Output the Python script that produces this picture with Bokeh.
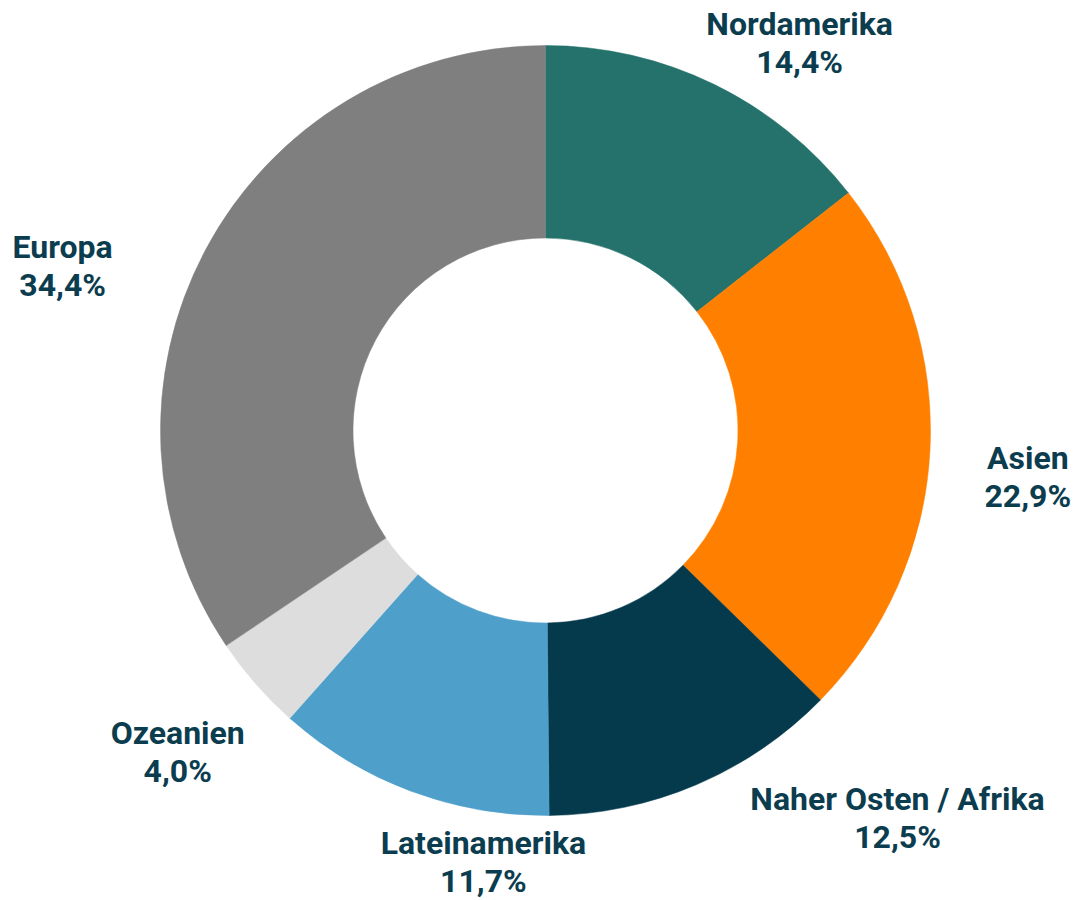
import math
from bokeh.plotting import figure
from bokeh.models import ColumnDataSource, Range1d
from bokeh.core.properties import value
from bokeh.embed import file_html
from bokeh.resources import INLINE

# ---- data ----
regions = ["Nordamerika", "Asien", "Naher Osten / Afrika", "Lateinamerika", "Ozeanien", "Europa"]
shares = [14.4, 22.9, 12.5, 11.7, 4.0, 34.4]
colors = ["#24726B", "#FF8000", "#043A4C", "#4F9FCB", "#DDDDDD", "#7F7F7F"]

# ---- layout (pixel nudges for labels, screen coords: +x right, +y down) ----
W, H = 1073, 900
CX, CY, R = 545, 430, 385          # centre and outer radius in pixels
INNER = 0.5
LABEL_R = 1.2
label_nudge = [(52, 28), (21, 21), (171, -38), (100, -1), (-20, 17), (-75, 53)]
LINE_GAP = 38
TEXT_COLOR = "#0B3D4F"
FONT = "Roboto"
FONT_SIZE = "32px"

total = sum(shares)
starts, ends, mids = [], [], []
cum = 0.0
for s in shares:
    f0 = cum / total
    cum += s
    f1 = cum / total
    starts.append(math.pi / 2 - 2 * math.pi * f0)
    ends.append(math.pi / 2 - 2 * math.pi * f1)
    mids.append(math.pi / 2 - 2 * math.pi * (f0 + f1) / 2)

src = ColumnDataSource(dict(start=starts, end=ends, color=colors, region=regions))

p = figure(width=W, height=H, output_backend="svg", toolbar_location=None,
           x_range=Range1d(-CX / R, (W - CX) / R), y_range=Range1d(-(H - CY) / R, CY / R),
           min_border=0)
p.axis.visible = False
p.grid.visible = False
p.outline_line_color = None
p.background_fill_color = "white"
p.border_fill_color = "white"

p.annular_wedge(x=0, y=0, inner_radius=INNER, outer_radius=1.0,
                start_angle="start", end_angle="end", direction="clock",
                fill_color="color", line_color="color", line_width=0.5, source=src)

lx, ly1, ly2, names, pcts = [], [], [], [], []
for name, s, a, (nx, ny) in zip(regions, shares, mids, label_nudge):
    x = LABEL_R * math.cos(a) + nx / R
    y = LABEL_R * math.sin(a) - ny / R
    lx.append(x)
    ly1.append(y + (LINE_GAP / 2) / R)
    ly2.append(y - (LINE_GAP / 2) / R)
    names.append(name)
    pcts.append(f"{s:.1f}".replace(".", ",") + "%")

p.text(x=lx, y=ly1, text=names, text_align="center", text_baseline="alphabetic",
       text_font=value(FONT), text_font_style="bold", text_font_size=FONT_SIZE,
       text_color=TEXT_COLOR)
p.text(x=lx, y=ly2, text=pcts, text_align="center", text_baseline="alphabetic",
       text_font=value(FONT), text_font_style="bold", text_font_size=FONT_SIZE,
       text_color=TEXT_COLOR)

open("out.html", "w").write(file_html(p, INLINE))
